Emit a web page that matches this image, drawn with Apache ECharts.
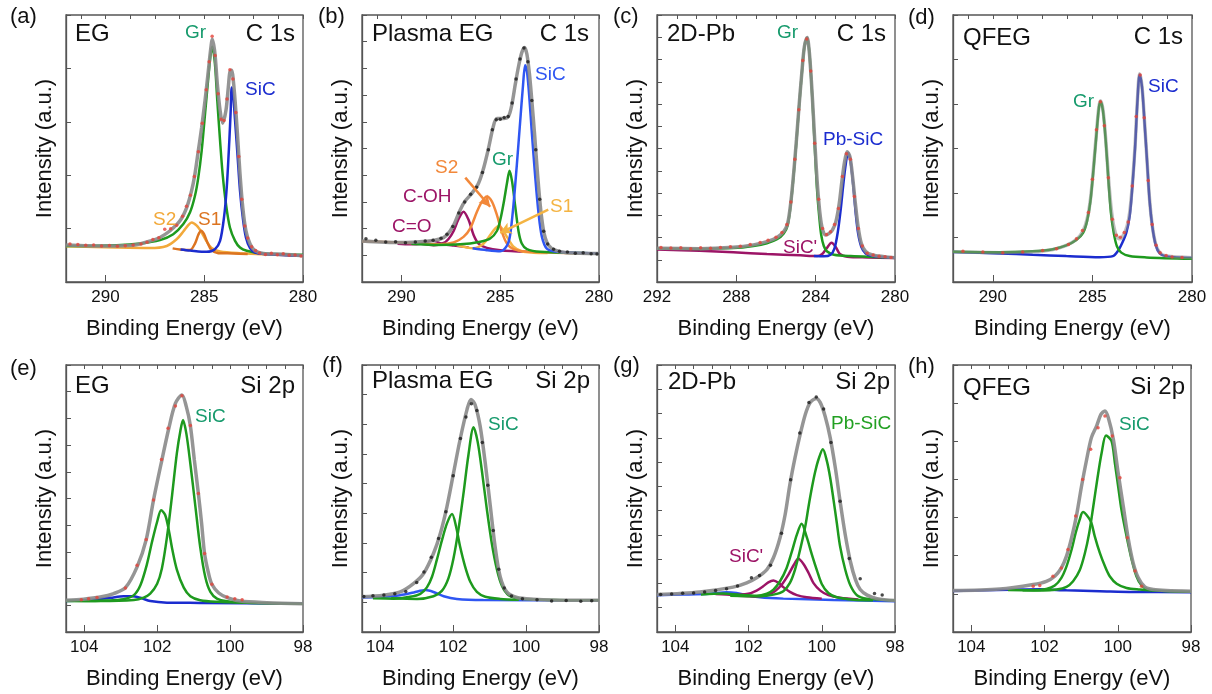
<!DOCTYPE html>
<html><head><meta charset="utf-8">
<script src="https://cdn.jsdelivr.net/npm/echarts@6/dist/echarts.min.js"></script>
<style>html,body{margin:0;padding:0;background:#fff}#c{width:1212px;height:694px}</style>
</head><body><div id="c"></div>
<script>
// ---------- tick settings ----------
const c1sTicks = [280, 292, 5, 1.25];
const c1sTicksC = [280, 292, 4, 1];
const si2pTicks = [98, 104.5, 2, 0.5];
const yDivisions = { a: 5, b: 10, c: 12, d: 6, e: 10, f: 9, g: 11, h: 7 };

// ---------- (a) EG C 1s ----------
const a_env = [[292,13.9],[289.94,13.5],[288.59,13.8],[287.58,15.7],[287.24,16.7],[286.73,19.2],[286.23,22.9],[285.89,27.9],[285.64,34.2],[285.47,40.5],[285.30,49.2],[285.13,58.0],[284.96,68.0],[284.79,79.3],[284.68,86.8],[284.59,90.9],[284.46,85.6],[284.34,74.3],[284.20,64.3],[284.07,59.5],[283.90,64.3],[283.78,73.1],[283.70,78.7],[283.61,79.3],[283.53,75.6],[283.44,68.0],[283.32,55.5],[283.19,40.5],[283.05,27.9],[282.89,19.2],[282.68,14.2],[282.43,11.7],[282.01,10.7],[281.0,10.4],[280,9.8]];
const a_gr = [[292,13.5],[289.43,13.8],[288.25,14.4],[287.24,15.7],[286.57,17.9],[286.06,21.7],[285.72,26.1],[285.47,32.3],[285.30,39.2],[285.13,49.2],[284.96,63.0],[284.79,76.8],[284.68,85.0],[284.59,88.1],[284.46,81.8],[284.34,68.0],[284.20,53.0],[284.07,40.5],[283.90,29.2],[283.70,20.4],[283.44,15.4],[283.19,12.9],[282.85,11.7],[282.18,10.8],[280,10.2]];
const a_sic = [[286.2,12.2],[285.72,11.8],[284.88,11.3],[284.46,12.3],[284.20,15.4],[284.00,24.2],[283.86,35.5],[283.73,53.0],[283.66,64.3],[283.61,72.8],[283.53,69.3],[283.44,60.5],[283.32,48.0],[283.19,34.2],[283.05,24.2],[282.89,16.7],[282.68,12.7],[282.43,11.0],[281.84,10.4],[280,9.8]];
const a_s2 = [[292,13.4],[289.43,12.9],[287.75,12.7],[286.90,13.5],[286.40,16.0],[286.06,18.9],[285.81,21.3],[285.64,22.3],[285.38,21.1],[285.13,18.5],[284.88,15.2],[284.63,12.7],[284.20,11.4],[283.19,10.8],[280,9.8]];
const a_s1 = [[286.6,12.6],[286.23,12.2],[285.72,12.0],[285.47,14.4],[285.30,17.7],[285.16,19.2],[285.01,17.9],[284.84,14.8],[284.63,11.9],[284.29,10.8],[283.53,10.7],[282.8,10.5]];
const a_dots = [[291.8,14.2],[291.4,14.0],[291.0,13.8],[290.6,13.9],[290.2,13.5],[289.8,13.7],[289.4,13.4],[289.0,13.6],[288.6,13.9],[288.2,14.2],[287.9,14.9],[287.6,15.9],[287.3,16.6],[287.0,19.8],[286.7,19.9],[286.4,21.3],[286.1,24.6],[285.9,28.4],[285.7,32.5],[285.5,39.5],[285.3,48.8],[285.1,59.5],[284.9,72.0],[284.75,82.5],[284.6,92.0],[284.45,84.8],[284.3,70.5],[284.15,61.0],[284.0,60.5],[283.85,68.5],[283.7,79.5],[283.55,76.0],[283.4,63.5],[283.25,47.0],[283.1,31.0],[282.95,21.0],[282.8,16.5],[282.6,13.2],[282.4,11.8],[282.2,10.9],[281.9,10.3],[281.6,10.8],[281.3,10.2],[281.0,10.6],[280.7,10.0],[280.4,10.1],[280.1,9.7]];

// ---------- (b) Plasma EG C 1s ----------
const b_env = [[292,15.4],[290.06,14.8],[288.71,15.3],[288.04,16.1],[287.70,17.6],[287.36,21.3],[287.03,27.0],[286.77,30.4],[286.44,33.2],[286.10,37.0],[285.84,42.7],[285.59,50.2],[285.37,57.7],[285.17,61.2],[284.83,61.2],[284.58,62.1],[284.41,66.5],[284.24,74.0],[284.07,80.9],[283.91,85.9],[283.77,87.8],[283.65,85.3],[283.52,77.8],[283.40,67.8],[283.26,55.2],[283.11,40.2],[282.94,26.3],[282.78,18.2],[282.56,13.8],[282.22,11.9],[281.63,11.0],[280,10.7]];
const b_sic = [[286.4,12.6],[285.68,11.9],[285.00,11.5],[284.66,13.6],[284.50,17.6],[284.33,28.9],[284.16,43.9],[283.99,60.2],[283.85,73.4],[283.74,81.2],[283.64,78.4],[283.52,68.4],[283.40,55.8],[283.23,39.5],[283.06,25.7],[282.89,16.9],[282.64,12.5],[282.13,11.3],[280,10.7]];
const b_gr = [[289.5,14.3],[288.37,13.9],[287.03,14.1],[286.01,15.1],[285.51,16.3],[285.17,19.1],[285.00,23.2],[284.83,29.5],[284.66,37.0],[284.53,41.7],[284.40,37.6],[284.24,28.2],[284.07,18.8],[283.91,14.4],[283.65,12.3],[282.98,11.3],[280,10.7]];
const b_s2 = [[292,15.3],[290.06,14.8],[288.04,14.1],[287.36,14.8],[286.86,16.9],[286.52,20.1],[286.18,26.3],[285.93,30.1],[285.68,32.0],[285.42,30.1],[285.17,25.1],[284.92,18.8],[284.66,14.4],[284.33,12.3],[283.65,11.3],[280,10.7]];
const b_s1 = [[287.2,13.8],[286.35,12.6],[285.84,14.4],[285.51,17.6],[285.25,20.1],[285.08,21.0],[284.92,20.1],[284.66,16.9],[284.33,13.2],[283.91,11.5],[283.32,11.0],[282.6,10.9]];
const b_coh = [[289.0,14.3],[288.37,13.8],[287.87,14.6],[287.62,16.1],[287.36,19.1],[287.11,23.6],[286.86,26.3],[286.60,23.2],[286.35,17.6],[286.10,14.4],[285.68,12.8],[285.00,11.9],[283.65,11.3]];
const b_co = [[290.2,14.3],[289.55,14.1],[289.05,14.3],[288.71,15.1],[288.46,15.4],[288.21,15.1],[287.87,14.1],[287.36,13.6],[286.6,13.0]];
const b_dots = [[291.8,16.2],[291.3,15.6],[290.8,15.0],[290.3,15.1],[289.8,14.7],[289.3,15.0],[288.8,15.4],[288.4,15.6],[288.0,16.4],[287.7,17.9],[287.4,20.8],[287.1,25.8],[286.8,30.0],[286.5,32.9],[286.2,35.5],[285.9,41.0],[285.6,49.5],[285.4,57.0],[285.2,60.8],[285.0,61.0],[284.8,61.6],[284.6,62.0],[284.4,67.0],[284.2,76.0],[284.0,83.5],[283.8,87.6],[283.6,82.5],[283.4,68.0],[283.2,49.5],[283.0,31.0],[282.8,19.0],[282.6,14.2],[282.3,12.3],[282.0,11.5],[281.6,11.2],[281.2,10.8],[280.8,11.0],[280.4,10.6],[280.1,10.5]];
const b_arrowS2 = [[286.77,39.1],[285.51,28.2]];
const b_arrowS1 = [[282.57,27.1],[285.0,18.4]];

// ---------- (c) 2D-Pb C 1s ----------
const c_env = [[292,12.6],[289.84,12.5],[288.15,13.0],[287.14,13.9],[286.46,15.1],[285.95,16.7],[285.61,18.9],[285.41,22.0],[285.24,30.7],[285.11,40.7],[284.97,53.2],[284.84,65.7],[284.70,78.2],[284.57,88.1],[284.43,91.6],[284.33,86.9],[284.23,76.9],[284.13,64.4],[284.03,50.7],[283.93,38.2],[283.82,28.2],[283.72,22.0],[283.62,18.9],[283.49,17.6],[283.32,18.2],[283.15,19.5],[282.98,22.6],[282.81,29.5],[282.68,37.6],[282.54,45.1],[282.41,48.8],[282.27,46.9],[282.14,39.5],[282.00,29.5],[281.86,20.7],[281.70,14.5],[281.48,11.4],[281.14,10.1],[280.55,9.5],[280,9.1]];
const c_gr = [[292,12.5],[289.84,12.4],[288.15,12.7],[287.14,13.5],[286.46,14.5],[285.95,16.0],[285.61,18.2],[285.41,21.3],[285.24,30.1],[285.11,40.1],[284.97,52.6],[284.84,65.4],[284.70,77.9],[284.57,87.9],[284.43,91.5],[284.33,86.9],[284.23,76.7],[284.13,63.2],[284.03,48.2],[283.93,34.5],[283.82,24.5],[283.72,17.6],[283.59,13.5],[283.42,11.4],[283.08,10.2],[282.24,9.7],[280,9.1]];
const c_pbsic = [[284.09,9.7],[283.59,9.6],[283.25,10.2],[283.05,12.6],[282.88,18.9],[282.74,27.0],[282.61,36.3],[282.49,43.8],[282.37,48.4],[282.24,45.1],[282.10,35.7],[281.98,25.7],[281.86,18.2],[281.70,13.2],[281.48,10.7],[281.14,9.7],[280,9.1]];
const c_sicp = [[292,12.2],[289.84,11.7],[288.15,11.1],[286.46,10.5],[284.77,10.0],[283.93,9.7],[283.67,10.5],[283.45,12.6],[283.20,14.7],[282.98,13.0],[282.78,10.5],[282.41,9.5],[281.39,9.2],[280,9.0]];
const c_dots = [[291.8,12.9],[291.3,12.7],[290.8,12.8],[290.3,12.5],[289.8,12.8],[289.3,12.6],[288.8,12.9],[288.3,13.2],[287.8,13.4],[287.3,14.0],[286.8,14.8],[286.4,15.6],[286.0,16.8],[285.7,18.5],[285.45,21.5],[285.25,30.0],[285.05,46.0],[284.85,64.5],[284.65,83.0],[284.45,91.0],[284.25,79.0],[284.05,52.0],[283.85,31.0],[283.65,20.0],[283.45,17.8],[283.25,18.8],[283.05,21.5],[282.85,27.5],[282.65,39.5],[282.45,48.0],[282.25,46.0],[282.05,32.0],[281.85,20.0],[281.65,13.5],[281.4,10.8],[281.1,10.1],[280.8,9.6],[280.5,9.5],[280.2,9.2]];

// ---------- (d) QFEG C 1s ----------
const d_env = [[292,11.3],[289.66,11.0],[288.0,11.3],[286.98,12.2],[286.31,13.7],[285.81,15.9],[285.47,19.1],[285.27,23.4],[285.10,30.9],[284.94,43.3],[284.77,58.3],[284.67,65.8],[284.59,67.9],[284.47,64.5],[284.33,53.3],[284.20,39.6],[284.07,28.4],[283.93,20.9],[283.77,16.9],[283.60,16.2],[283.43,17.8],[283.26,20.9],[283.13,25.9],[283.00,35.9],[282.86,50.8],[282.74,68.2],[282.63,78.0],[282.51,73.2],[282.39,60.8],[282.26,45.8],[282.13,30.9],[281.99,20.9],[281.82,14.1],[281.62,11.0],[281.29,9.7],[280,9.1]];
const d_gr = [[292,11.3],[289.66,11.1],[288.0,11.5],[286.98,12.3],[286.31,13.7],[285.81,15.7],[285.47,18.4],[285.27,22.8],[285.10,30.3],[284.94,42.7],[284.77,57.7],[284.67,65.5],[284.59,67.6],[284.47,64.1],[284.33,52.7],[284.20,38.4],[284.07,25.9],[283.93,18.4],[283.77,13.4],[283.55,11.0],[283.13,9.7],[282.29,9.2],[280,8.7]];
const d_sic = [[292,11.2],[289.66,10.7],[288.0,10.2],[286.31,9.7],[284.64,9.3],[283.97,9.7],[283.72,11.6],[283.50,14.7],[283.30,18.4],[283.13,24.7],[283.00,35.2],[282.86,50.2],[282.74,67.6],[282.63,77.6],[282.51,73.0],[282.39,60.5],[282.26,45.6],[282.13,30.6],[281.99,20.7],[281.82,13.8],[281.62,10.7],[281.29,9.6],[280,9.0]];
const d_dots = [[291.5,11.5],[290.5,11.2],[289.5,11.0],[288.5,11.2],[287.5,11.8],[286.8,12.5],[286.2,14.0],[285.8,16.2],[285.5,19.3],[285.2,26.0],[285.0,38.5],[284.8,57.0],[284.6,67.5],[284.4,58.5],[284.2,39.0],[284.0,23.5],[283.8,17.5],[283.6,16.8],[283.4,18.5],[283.2,22.5],[283.0,36.0],[282.8,62.0],[282.6,77.5],[282.4,61.5],[282.2,38.0],[282.0,21.5],[281.8,13.8],[281.6,11.0],[281.3,9.9],[281.0,9.4],[280.5,9.2]];

// ---------- (e) EG Si 2p ----------
const e_env = [[104.5,11.9],[104.02,12.3],[103.56,13.1],[103.19,14.4],[102.87,16.6],[102.55,24.4],[102.30,34.6],[102.10,49.4],[101.87,64.4],[101.68,76.3],[101.50,85.6],[101.32,88.8],[101.20,84.4],[101.09,77.3],[100.98,64.4],[100.87,51.9],[100.78,40.6],[100.70,29.4],[100.59,21.9],[100.50,17.9],[100.31,14.6],[100.08,12.9],[99.72,11.6],[98.99,11.0],[98.0,10.6]];
const e_sic1 = [[104.5,11.7],[103.56,11.6],[102.64,12.0],[102.37,12.9],[102.19,14.4],[102.0,18.1],[101.87,23.8],[101.73,35.6],[101.59,51.3],[101.46,66.9],[101.36,75.6],[101.29,79.4],[101.20,74.4],[101.09,63.1],[100.95,46.9],[100.82,31.9],[100.68,20.6],[100.54,15.0],[100.36,12.5],[100.08,11.5],[99.54,11.0],[98.0,10.6]];
const e_sic2 = [[104.5,11.6],[104.02,11.6],[103.38,11.8],[102.92,12.3],[102.64,13.8],[102.46,17.5],[102.28,25.4],[102.14,33.8],[102.0,41.3],[101.89,45.6],[101.78,43.8],[101.68,38.1],[101.59,31.3],[101.46,23.4],[101.27,16.6],[101.09,13.4],[100.82,11.9],[100.36,11.3],[99.6,11.0]];
const e_bg = [[104.5,11.6],[103.74,12.1],[103.28,12.8],[102.92,13.4],[102.69,13.4],[102.46,12.8],[102.19,11.6],[101.73,11.0],[100.82,10.9],[98.0,10.6]];
const e_dots = [[104.08,12.1],[103.88,12.5],[103.65,12.9],[102.87,16.5],[102.55,25.0],[102.30,34.6],[102.10,49.4],[101.88,64.6],[101.70,76.3],[101.50,84.6],[101.32,88.5],[101.09,77.3],[100.87,51.9],[100.70,29.4],[100.50,17.9],[100.08,13.1],[99.87,12.5],[99.67,12.1]];

// ---------- (f) Plasma EG Si 2p ----------
const f_env = [[104.5,13.2],[103.91,13.8],[103.45,15.0],[103.08,18.2],[102.81,21.9],[102.54,29.4],[102.35,37.0],[102.17,47.0],[101.99,59.5],[101.81,72.1],[101.62,83.3],[101.51,87.1],[101.40,85.2],[101.26,77.1],[101.12,63.3],[100.98,47.0],[100.85,32.0],[100.71,20.7],[100.53,15.0],[100.25,12.9],[99.80,12.3],[98.88,11.9],[98.0,11.9]];
const f_sic1 = [[103.7,12.6],[102.99,12.4],[102.54,13.4],[102.31,15.4],[102.13,20.1],[101.99,27.6],[101.85,38.8],[101.71,52.6],[101.58,66.4],[101.44,76.7],[101.33,71.4],[101.21,60.2],[101.08,46.4],[100.94,33.2],[100.80,23.4],[100.66,17.2],[100.48,13.8],[100.16,12.5],[99.25,12.0],[98.0,11.9]];
const f_sic2 = [[104.2,12.6],[103.63,12.5],[103.18,13.2],[102.90,14.3],[102.72,16.7],[102.58,20.7],[102.45,26.9],[102.31,34.2],[102.17,40.7],[102.03,44.2],[101.92,39.5],[101.81,32.0],[101.67,24.4],[101.53,18.8],[101.35,15.0],[101.12,13.2],[100.71,12.4],[100.2,12.1]];
const f_bg = [[104.5,12.9],[103.91,13.2],[103.45,13.8],[103.08,14.8],[102.76,15.7],[102.54,15.0],[102.26,13.4],[101.90,12.4],[101.17,12.0],[98.0,11.9]];
const f_dots = [[104.45,13.3],[104.2,13.6],[103.9,13.9],[103.6,14.3],[103.3,15.2],[103.0,18.5],[102.8,22.5],[102.6,28.0],[102.4,35.0],[102.2,45.0],[102.0,58.5],[101.8,72.5],[101.65,80.5],[101.5,85.5],[101.35,83.0],[101.2,71.0],[101.05,55.0],[100.9,38.0],[100.75,23.5],[100.6,16.5],[100.4,13.5],[100.1,12.5],[99.7,12.1],[99.3,11.6],[98.9,11.8],[98.5,11.5],[98.2,11.7]];

// ---------- (g) 2D-Pb Si 2p ----------
const g_env = [[104.5,14.0],[103.33,15.0],[102.42,16.8],[102.05,18.4],[101.78,20.3],[101.50,23.4],[101.32,27.8],[101.14,35.3],[101.0,44.0],[100.87,55.3],[100.73,65.3],[100.59,74.0],[100.45,81.5],[100.32,85.9],[100.15,87.5],[100.04,85.9],[99.91,80.9],[99.77,72.8],[99.63,61.5],[99.50,49.0],[99.36,36.5],[99.22,26.5],[99.08,19.6],[98.95,15.9],[98.76,13.8],[98.49,12.5],[98.0,11.8]];
const g_pb1 = [[102.5,13.6],[101.69,13.4],[101.32,14.0],[101.05,15.3],[100.87,18.4],[100.73,23.4],[100.59,30.9],[100.45,39.6],[100.36,47.1],[100.27,54.0],[100.18,60.0],[100.09,64.6],[99.97,68.4],[99.86,64.0],[99.77,57.8],[99.68,49.6],[99.59,40.9],[99.50,32.1],[99.36,23.4],[99.22,17.5],[99.04,13.8],[98.77,12.5],[98.0,11.8]];
const g_pb2 = [[103.3,14.0],[102.7,14.4],[102.24,13.9],[101.78,13.6],[101.50,14.4],[101.32,15.9],[101.14,19.0],[100.96,24.0],[100.82,30.0],[100.68,36.5],[100.55,40.5],[100.41,35.5],[100.27,29.0],[100.13,23.0],[100.00,18.0],[99.82,14.6],[99.59,13.0],[99.13,12.1],[98.6,11.9]];
const g_sp1 = [[102.3,13.6],[101.78,13.3],[101.50,13.8],[101.28,15.3],[101.09,17.8],[100.91,21.5],[100.77,25.0],[100.64,27.4],[100.50,25.5],[100.36,22.1],[100.23,18.4],[100.04,15.5],[99.82,13.8],[99.50,12.8],[99.0,12.2]];
const g_sp2 = [[102.9,14.2],[102.42,13.9],[102.01,14.3],[101.78,15.5],[101.60,17.1],[101.46,18.6],[101.32,19.3],[101.18,18.4],[101.05,16.8],[100.87,15.0],[100.68,13.8],[100.41,13.0],[100.0,12.5]];
const g_bg = [[104.5,13.8],[103.79,14.0],[103.06,14.3],[102.60,14.9],[102.33,14.6],[102.05,13.8],[101.69,13.0],[101.05,12.5],[99.68,12.0],[98.0,11.5]];
const g_dots = [[104.4,14.0],[104.1,14.2],[103.8,14.5],[103.5,14.6],[103.2,15.0],[102.9,15.5],[102.6,16.2],[102.3,17.2],[101.92,20.3],[101.7,21.2],[101.4,25.0],[101.1,37.0],[100.85,57.0],[100.6,74.5],[100.35,86.0],[100.15,88.0],[99.95,83.5],[99.75,71.0],[99.5,49.0],[99.25,27.5],[98.95,19.9],[98.56,14.4],[98.35,13.9]];

// ---------- (h) QFEG Si 2p ----------
const h_env = [[104.5,15.5],[103.22,16.1],[102.31,17.8],[101.95,19.0],[101.72,20.9],[101.54,24.0],[101.40,28.4],[101.26,35.3],[101.13,43.4],[100.99,54.6],[100.85,64.6],[100.72,72.8],[100.58,77.1],[100.46,81.5],[100.35,82.8],[100.26,80.3],[100.12,72.1],[99.99,59.6],[99.85,47.1],[99.71,34.6],[99.58,25.9],[99.44,20.3],[99.26,16.9],[99.03,15.9],[98.67,15.5],[98.0,15.3]];
const h_sic1 = [[102.6,15.6],[102.04,15.5],[101.67,15.9],[101.40,16.9],[101.22,19.0],[101.04,23.1],[100.90,29.4],[100.78,37.1],[100.67,46.9],[100.56,57.1],[100.44,67.1],[100.32,73.6],[100.17,71.5],[100.08,63.4],[99.99,54.6],[99.90,45.9],[99.76,35.9],[99.62,27.1],[99.49,20.9],[99.35,17.4],[99.17,15.9],[98.76,15.4],[98.0,15.1]];
const h_sic2 = [[103.0,15.7],[102.31,15.6],[101.95,16.1],[101.72,17.4],[101.54,20.3],[101.40,24.6],[101.26,30.9],[101.15,37.1],[101.04,42.1],[100.95,44.9],[100.81,43.1],[100.72,40.9],[100.63,35.9],[100.49,29.6],[100.35,24.6],[100.22,20.9],[100.03,18.1],[99.76,16.5],[99.40,15.9],[99.0,15.5]];
const h_bg = [[104.5,15.4],[102.95,15.8],[102.13,16.0],[101.40,15.6],[100.49,15.3],[99.58,15.0],[98.0,14.9]];
const h_dots = [[102.31,17.1],[102.13,17.4],[101.77,20.9],[101.54,24.0],[101.36,30.9],[101.15,43.4],[100.96,57.1],[100.74,68.4],[100.54,76.5],[100.35,80.9],[100.15,73.4],[99.94,57.8],[99.74,35.3],[99.53,22.8],[99.35,17.1]];

// ---------- styling ----------
const FONT = 'Liberation Sans, Arial, sans-serif';
const GREEN = '#1e9a1e', GREEN_T = '#169a6c', BLUE = '#1b2ccf', BLUE2 = '#2f56f2',
      ORANGE = '#f2a93a', ORANGE_D = '#dc7420', ORANGE_B = '#f2883a', YELLOW = '#f4b443',
      PURPLE = '#9c1466', GREY = '#8a8a8a', RED = '#e5423a', BLACK = '#1a1a1a', AXIS = '#555';

const grids = [
  [66, 15, 237, 267], [362, 15, 237, 267], [657, 15, 238, 267], [953, 15, 239, 267],
  [66, 365, 237, 267], [362, 365, 237, 267], [657, 365, 238, 267], [953, 365, 238, 267]
];
const keys = ['a','b','c','d','e','f','g','h'];
const ticks = [c1sTicks, c1sTicks, c1sTicksC, c1sTicks, si2pTicks, si2pTicks, si2pTicks, si2pTicks];

const panelSeries = {
  a: [[a_s2, ORANGE, 2.5], [a_s1, ORANGE_D, 2.5], [a_gr, GREEN, 2.5], [a_sic, BLUE, 2.5]],
  b: [[b_co, PURPLE, 2.2], [b_coh, PURPLE, 2.5], [b_s1, YELLOW, 2.5], [b_s2, ORANGE_B, 2.5], [b_gr, GREEN, 2.5], [b_sic, BLUE2, 2.5]],
  c: [[c_sicp, PURPLE, 2.5], [c_gr, GREEN, 2.5], [c_pbsic, BLUE, 2.5]],
  d: [[d_sic, BLUE, 2.5], [d_gr, GREEN, 2.5]],
  e: [[e_bg, BLUE, 2.5], [e_sic2, GREEN, 2.5], [e_sic1, GREEN, 2.5]],
  f: [[f_bg, BLUE2, 2.5], [f_sic2, GREEN, 2.5], [f_sic1, GREEN, 2.5]],
  g: [[g_bg, BLUE2, 2.5], [g_sp2, PURPLE, 2.5], [g_sp1, PURPLE, 2.5], [g_pb2, GREEN, 2.5], [g_pb1, GREEN, 2.5]],
  h: [[h_bg, BLUE, 2.5], [h_sic2, GREEN, 2.5], [h_sic1, GREEN, 2.5]]
};
const envs = { a: a_env, b: b_env, c: c_env, d: d_env, e: e_env, f: f_env, g: g_env, h: h_env };
const dots = { a: [a_dots, RED], b: [b_dots, BLACK], c: [c_dots, RED], d: [d_dots, RED], e: [e_dots, RED], f: [f_dots, BLACK], g: [g_dots, BLACK], h: [h_dots, RED] };

const option = { animation: false, grid: [], xAxis: [], yAxis: [], series: [], graphic: [] };

keys.forEach((k, i) => {
  const [l, t, w, h] = grids[i];
  const [mn, mx, major, minor] = ticks[i];
  option.grid.push({ left: l, top: t, width: w, height: h, show: true, borderColor: AXIS, borderWidth: 1.3, backgroundColor: 'transparent' });
  option.xAxis[i] = {
    gridIndex: i, type: 'value', min: mn, max: mx, inverse: true, interval: major,
    axisLine: { lineStyle: { color: AXIS, width: 1.3 } },
    axisTick: { inside: true, length: 7, lineStyle: { color: AXIS } },
    axisLabel: { fontSize: 17, color: '#111', fontFamily: FONT, margin: 7,
      formatter: v => { const r = Math.round(v); if (Math.abs(v - r) > 1e-6) return ''; if ((r - mn) % major !== 0) return ''; return String(r); } },
    splitLine: { show: false },
    name: 'Binding Energy (eV)', nameLocation: 'middle', nameGap: 36,
    nameTextStyle: { fontSize: 22, color: '#111', fontFamily: FONT }
  };
  option.xAxis[8 + i] = {
    gridIndex: i, type: 'value', min: mn, max: mx, inverse: true, interval: minor,
    axisLine: { show: false }, axisTick: { inside: true, length: 4, lineStyle: { color: AXIS } },
    axisLabel: { show: false }, splitLine: { show: false }
  };
  option.yAxis[i] = {
    gridIndex: i, type: 'value', min: 0, max: 100, interval: 100 / yDivisions[k],
    axisLabel: { show: false }, splitLine: { show: false },
    axisLine: { show: true, lineStyle: { color: AXIS, width: 1.3 } },
    axisTick: { inside: true, length: 5, lineStyle: { color: AXIS } },
    name: 'Intensity (a.u.)', nameLocation: 'middle', nameGap: 10,
    nameTextStyle: { fontSize: 22, color: '#111', fontFamily: FONT }
  };
  panelSeries[k].forEach(([data, color, width]) => {
    option.series.push({ type: 'line', xAxisIndex: i, yAxisIndex: i, data, showSymbol: false, smooth: 0.3,
      lineStyle: { color, width }, z: 2, silent: true });
  });
  const envSeries = { type: 'line', xAxisIndex: i, yAxisIndex: i, data: envs[k], showSymbol: false, smooth: 0.3,
    lineStyle: { color: GREY, width: 3.5, opacity: k === 'd' ? 0.55 : 0.9 }, z: 3, silent: true };
  if (k === 'b') {
    envSeries.markLine = { silent: true, symbol: ['none', 'arrow'], symbolSize: [9, 11], label: { show: false },
      data: [
        [{ coord: b_arrowS2[0], lineStyle: { color: ORANGE_B, width: 2.5, type: 'solid' } }, { coord: b_arrowS2[1] }],
        [{ coord: b_arrowS1[0], lineStyle: { color: YELLOW, width: 2.5, type: 'solid' } }, { coord: b_arrowS1[1] }]
      ] };
  }
  option.series.push(envSeries);
  option.series.push({ type: 'scatter', xAxisIndex: i, yAxisIndex: i, data: dots[k][0], symbolSize: 3.5,
    itemStyle: { color: dots[k][1] }, z: 4, silent: true });
});

// ---------- texts ----------
const txt = (x, y, s, size, color, align) => ({ type: 'text', x, y, silent: true, z: 10,
  style: { text: s, fontSize: size, fill: color, fontFamily: FONT, textAlign: align || 'left', textVerticalAlign: 'middle' } });
const panelLetters = [[10,17,'(a)'],[318,17,'(b)'],[613,17,'(c)'],[908,18,'(d)'],[10,369,'(e)'],[322,366,'(f)'],[613,366,'(g)'],[908,367,'(h)']];
panelLetters.forEach(p => option.graphic.push(txt(p[0], p[1], p[2], 22, '#111')));
const samples = [[75,34,'EG'],[372,34,'Plasma EG'],[667,34,'2D-Pb'],[963,38,'QFEG'],[75,386,'EG'],[372,381,'Plasma EG'],[668,382,'2D-Pb'],[963,388,'QFEG']];
samples.forEach(p => option.graphic.push(txt(p[0], p[1], p[2], 24, '#111')));
const orbitals = [[295,34,'C 1s'],[589,34,'C 1s'],[886,34,'C 1s'],[1183,37,'C 1s'],[295,386,'Si 2p'],[590,381,'Si 2p'],[890,382,'Si 2p'],[1185,387,'Si 2p']];
orbitals.forEach(p => option.graphic.push(txt(p[0], p[1], p[2], 24, '#111', 'right')));
const peakLabels = [
  [185,33,'Gr',GREEN_T],[245,90,'SiC',BLUE],[153,220,'S2',ORANGE],[198,220,'S1',ORANGE_D],
  [535,75,'SiC',BLUE2],[492,160,'Gr',GREEN_T],[435,168,'S2',ORANGE_B],[403,197,'C-OH',PURPLE],[392,227,'C=O',PURPLE],[550,207,'S1',YELLOW],
  [777,33,'Gr',GREEN_T],[823,140,'Pb-SiC',BLUE],[783,248,"SiC'",PURPLE],
  [1073,102,'Gr',GREEN_T],[1148,87,'SiC',BLUE],
  [195,417,'SiC',GREEN_T],[488,425,'SiC',GREEN_T],[831,424,'Pb-SiC','#22a022'],[729,557,"SiC'",PURPLE],[1119,425,'SiC',GREEN_T]
];
peakLabels.forEach(p => option.graphic.push(txt(p[0], p[1], p[2], 19, p[3])));

const chart = echarts.init(document.getElementById('c'), null, { renderer: 'canvas' });
chart.setOption(option);
</script></body></html>
